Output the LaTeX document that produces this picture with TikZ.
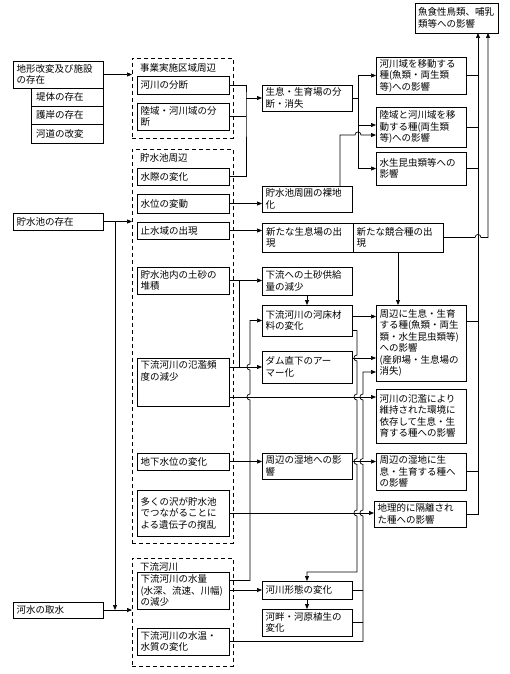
\documentclass[tikz,border=0pt]{standalone}
\usepackage{fontspec}
\setmainfont{Noto Sans CJK JP}
\usepackage{tikz}
\usetikzlibrary{arrows.meta,positioning,calc}

\begin{document}
\begin{tikzpicture}[x=1pt, y=-1pt,
    box/.style={rectangle, draw, line width=0.7pt, anchor=north west, align=left, inner xsep=3pt, inner ysep=1.5pt, outer sep=0pt, font=\fontsize{9.5}{11.5}\selectfont},
    wide/.style={box, minimum width=90pt, text width=83pt},
    mid/.style={box, minimum width=92pt, text width=85pt},
    sub/.style={box, minimum width=72pt, text width=62pt, inner xsep=5pt},
    group/.style={rectangle, draw, dash pattern=on 4pt off 3pt, line width=0.7pt, anchor=north west, outer sep=0pt, inner sep=0pt},
    glabel/.style={anchor=west, inner sep=0pt, font=\fontsize{9.5}{11.5}\selectfont},
    link/.style={line width=0.7pt},
    arrow/.style={->, >={Triangle[length=5pt,width=4pt]}, line width=0.7pt}
]
\useasboundingbox (0,0) rectangle (510,674);

% causes
\node[wide, minimum height=27pt] (kaihen) at (13,61) {地形改変及び施設\\の存在};
\node[sub, minimum height=18pt] (teitai) at (31,88) {堤体の存在};
\node[sub, minimum height=18pt] (gogan) at (31,106) {護岸の存在};
\node[sub, minimum height=19pt] (kado) at (31,124) {河道の改変};
\node[wide, minimum height=17pt] (chosuichi) at (13,213) {貯水池の存在};
\node[wide, minimum height=16pt] (shusui) at (13,602) {河水の取水};

% groups
\node[group, minimum width=101pt, minimum height=80pt] (gJigyo) at (132,58) {};
\node[group, minimum width=101pt, minimum height=394pt] (gChosui) at (132,149) {};
\node[group, minimum width=101pt, minimum height=108pt] (gKaryu) at (132,558) {};
\node[glabel] (lJigyo) at (140,68) {事業実施区域周辺};
\node[glabel] (lChosui) at (140,158) {貯水池周辺};
\node[glabel] (lKaryu) at (140,567) {下流河川};

% changes
\node[mid, minimum height=18pt] (bundan) at (137,76) {河川の分断};
\node[mid, minimum height=27pt] (rikuiki) at (137,103) {陸域・河川域の分\\断};
\node[mid, minimum height=17pt] (mizugiwa) at (137,168) {水際の変化};
\node[mid, minimum height=19pt] (suii) at (137,194) {水位の変動};
\node[mid, minimum height=17pt] (shisui) at (137,222) {止水域の出現};
\node[mid, minimum height=27pt] (taiseki) at (137,267) {貯水池内の土砂の\\堆積};
\node[mid, minimum height=48pt] (hanran) at (137,358) {下流河川の氾濫頻\\度の減少\\\mbox{}\\\mbox{}};
\node[mid, minimum height=17pt] (chikasui) at (137,453) {地下水位の変化};
\node[mid, minimum height=46pt] (sawa) at (137,490) {多くの沢が貯水池\\でつながることに\\よる遺伝子の撹乱};
\node[mid, minimum height=37pt] (suiryo) at (137,572) {下流河川の水量\\(水深、流速、川幅)\\の減少};
\node[mid, minimum height=27pt] (suion) at (137,628) {下流河川の水温・\\水質の変化};

% effects on habitat
\node[wide, minimum height=26pt] (seisoku) at (262,85) {生息・生育場の分\\断・消失};
\node[wide, minimum height=26pt] (rachi) at (262,186) {貯水池周囲の裸地\\化};
\node[wide, minimum width=91pt, minimum height=29pt] (shinsei) at (262,223) {新たな生息場の出\\現};
\node[wide, minimum height=29pt] (kyogo) at (353,223) {新たな競合種の出\\現};
\node[wide, minimum height=28pt] (dosha) at (262,267) {下流への土砂供給\\量の減少};
\node[wide, minimum height=31pt] (kasho) at (262,305) {下流河川の河床材\\料の変化};
\node[wide, minimum height=32pt] (armor) at (262,351) {ダム直下のアー\\マー化};
\node[wide, minimum height=26pt] (shicchi) at (262,453) {周辺の湿地への影\\響};
\node[wide, minimum height=18pt] (keitai) at (262,581) {河川形態の変化};
\node[wide, minimum height=27pt] (kahan) at (262,609) {河畔・河原植生の\\変化};

% effects on species
\node[wide, minimum height=37pt] (idoA) at (376,57) {河川域を移動する\\種(魚類・両生類\\等)への影響};
\node[wide, minimum height=40pt] (idoB) at (376,107) {陸域と河川域を移\\動する種(両生類\\等)への影響};
\node[wide, minimum height=33pt] (konchu) at (376,152) {水生昆虫類等への\\影響};
\node[wide, minimum height=76pt] (shuhen) at (376,305) {周辺に生息・生育\\する種(魚類・両生\\類・水生昆虫類等)\\への影響\\(産卵場・生息場の\\消失)};
\node[wide, minimum height=54pt] (hanranSp) at (376,389) {河川の氾濫により\\維持された環境に\\依存して生息・生\\育する種への影響};
\node[wide, minimum height=37pt] (shicchiSp) at (376,453) {周辺の湿地に生\\息・生育する種へ\\の影響};
\node[mid, minimum height=26pt] (chiri) at (374,501) {地理的に隔離され\\た種への影響};
\node[box, minimum width=83pt, minimum height=30pt, text width=77pt] (gyoshoku) at (415,3) {魚食性鳥類、哺乳\\類等への影響};

% junctions
\coordinate (j1) at (246,98);
\coordinate (j2) at (358,98);
\coordinate (b1) at ([yshift=2pt]idoB.west);
\coordinate (b2) at ([yshift=-8pt]idoB.west);
\coordinate (h1) at ([yshift=15pt]hanran.east);
\coordinate (h2) at ([yshift=-15pt]hanran.east);
\coordinate (k1) at ([yshift=4pt]kasho.east);
\coordinate (k2) at ([yshift=-10pt]kasho.east);
\coordinate (a1) at ([yshift=9pt]armor.east);
\coordinate (s1) at ([yshift=22pt]shuhen.east);

% left side
\draw[arrow] (kaihen.east) -- (kaihen.east -| gJigyo.west);
\draw[arrow] (chosuichi.east) -- (chosuichi.east -| gChosui.west);
\draw[arrow] ([xshift=12pt]chosuichi.east) -- ([xshift=12pt]chosuichi.east |- shusui.east);
\draw[arrow] (shusui.east) -- (shusui.east -| gKaryu.west);

% upper part
\draw[link] (bundan.east) -| (j1) |- (mizugiwa.east);
\draw[link] (rikuiki.east) -- (rikuiki.east -| j1);
\draw[arrow] (j1) -- (seisoku.west);
\draw[link] (seisoku.east) -- (j2);
\draw[arrow] (j2) |- (idoA.west);
\draw[arrow] (j2) |- (konchu.west);
\draw[arrow] (b1 -| j2) -- (b1);
\draw[arrow] ([xshift=33pt]rachi.north) |- (355,135) .. controls (355,131) and (361,131) .. (361,135) -- (b2);
\draw[arrow] (suii.east) -- (suii.east -| rachi.west);
\draw[arrow] (shisui.east) -- (shisui.east -| shinsei.west);
\draw[arrow] (kyogo.east) -- (475,237.5) .. controls (475,233.5) and (481,233.5) .. (481,237.5) -| ([xshift=-10pt]gyoshoku.south east);
\draw[arrow] (kyogo.south) -- (kyogo.south |- shuhen.north);

% trunk to the top box
\draw[arrow] (chiri.east) -| ([xshift=-20pt]gyoshoku.south east);
\draw[link] (idoA.east) -- (idoA.east -| 478,0);
\draw[link] (idoB.east) -- (idoB.east -| 478,0);
\draw[link] (konchu.east) -- (konchu.east -| 478,0);
\draw[link] (s1) -- (s1 -| 478,0);
\draw[link] (shicchiSp.east) -- (shicchiSp.east -| 478,0);

% sediment and flow
\draw[arrow] (taiseki.east) -- (taiseki.east -| dosha.west);
\draw[link] (taiseki.east -| 239,0) -- (239,367);
\draw[arrow] (dosha.south) -- (kasho.north);
\draw[arrow] (h1) -- (h1 -| armor.west);
\draw[arrow] (h2) -- (h2 -| hanranSp.west);
\draw[arrow] ([yshift=10pt]suiryo.east) -- (250,580.5) -- (250,400) .. controls (246,400) and (246,394) .. (250,394) -- (250,370) .. controls (246,370) and (246,364) .. (250,364) |- (kasho.west);
\draw[arrow] (k1) -- (k1 -| shuhen.west);
\draw[arrow] (a1) -- (a1 -| shuhen.west);
\draw[arrow] (k2) -- (357,330.5) -- (357,355) .. controls (353,355) and (353,361) .. (357,361)
  -- (357,394) .. controls (353,394) and (353,400) .. (357,400)
  -- (357,458.5) .. controls (353,458.5) and (353,464.5) .. (357,464.5)
  -- (357,510) .. controls (353,510) and (353,516) .. (357,516)
  -- (357,572) -| (keitai.north);
\draw[arrow] (suion.east) -- (363,641.5)
  -- (363,516) .. controls (359,516) and (359,510) .. (363,510)
  -- (363,464.5) .. controls (359,464.5) and (359,458.5) .. (363,458.5)
  -- (363,400) .. controls (359,400) and (359,394) .. (363,394)
  -- (363,372) -- (shuhen.west |- 0,372);
\draw[link] (keitai.east) -- (keitai.east -| 363,0);
\draw[link] (kahan.east) -- (kahan.east -| 363,0);
\draw[arrow] (chikasui.east) -- (chikasui.east -| shicchi.west);
\draw[arrow] (shicchi.east |- chikasui.east) -- (chikasui.east -| shicchiSp.west);
\draw[arrow] (sawa.east) -- (sawa.east -| chiri.west);
\draw[arrow] (suiryo.east |- keitai.west) -- (keitai.west);
\draw[arrow] (keitai.south) -- (kahan.north);

\end{tikzpicture}
\end{document}
